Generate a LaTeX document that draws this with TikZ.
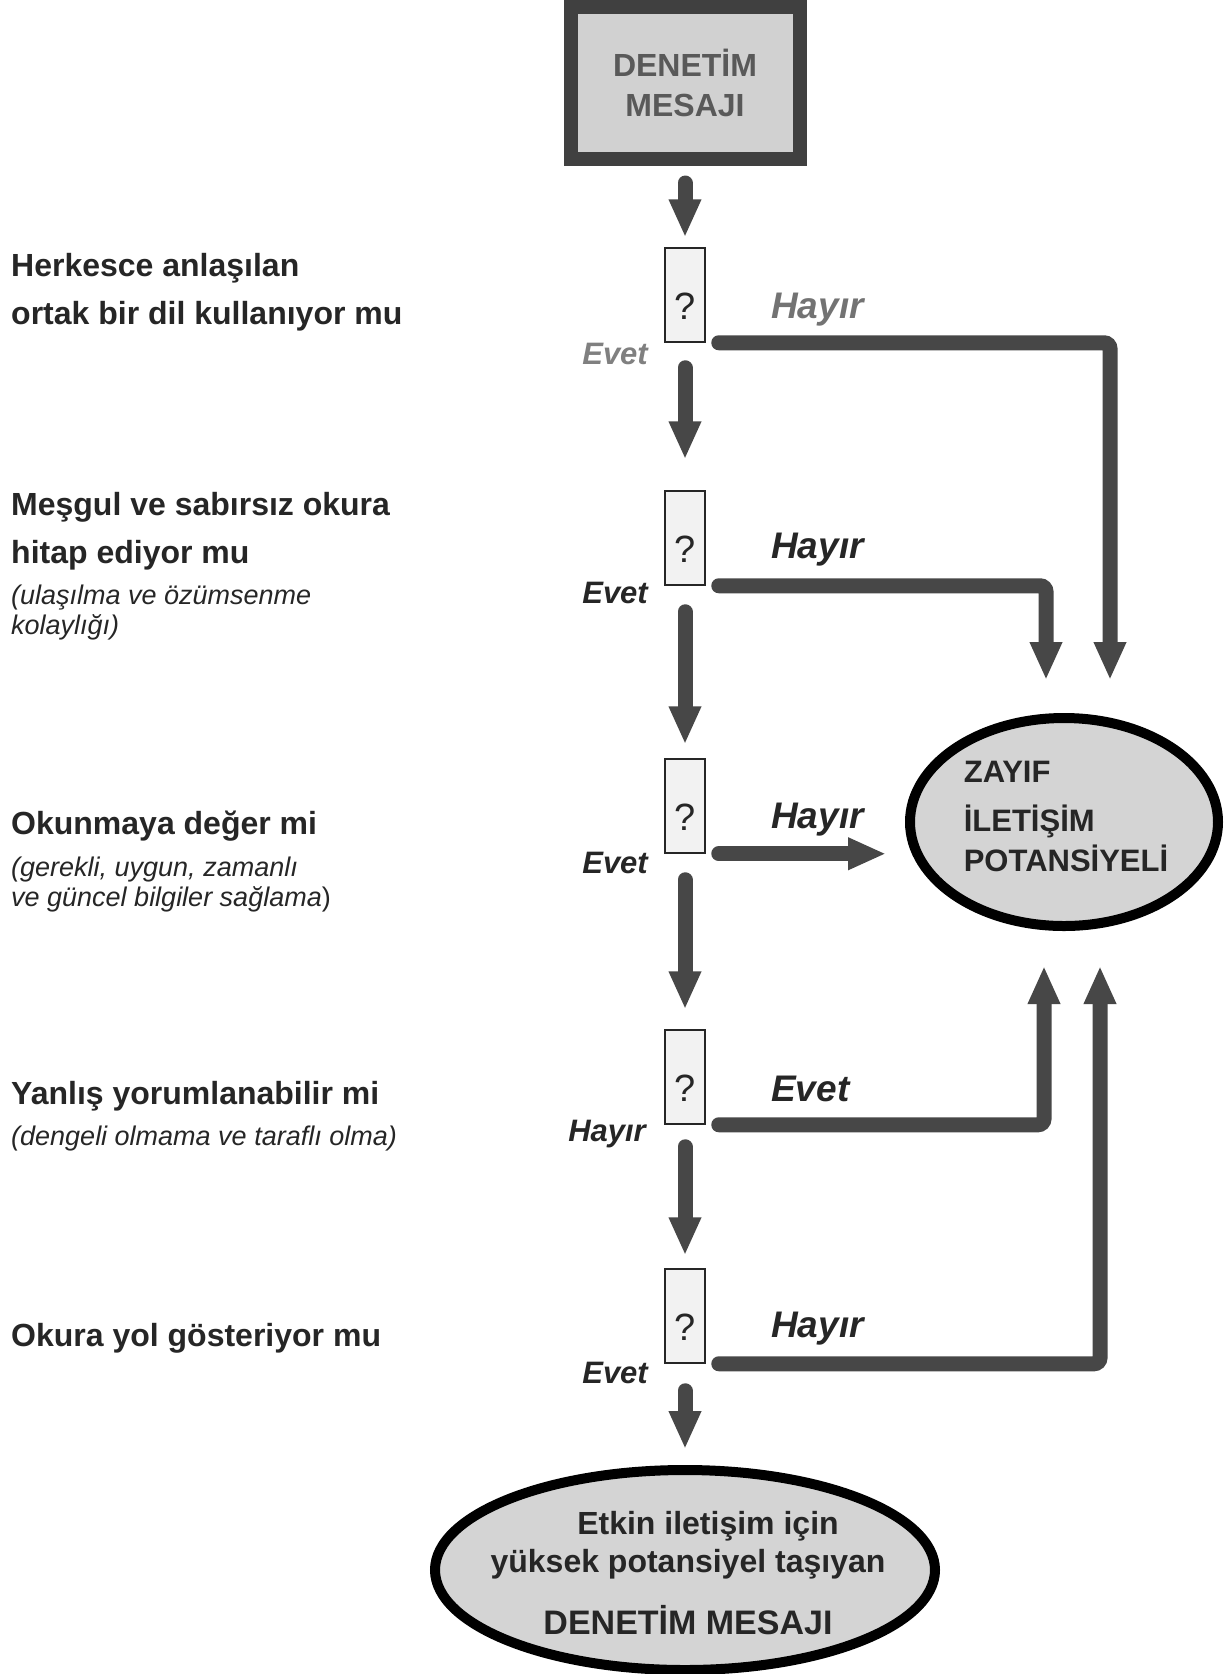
\documentclass[tikz,border=0pt]{standalone}
\usepackage{fontspec}
\setmainfont{Liberation Sans}
\usetikzlibrary{arrows.meta, positioning, shapes.geometric}

\begin{document}
\begin{tikzpicture}[
                x=1pt, y=-1pt,
                every node/.style={inner sep=0pt, text=black!85},
                mesajkutu/.style={draw=black!75, line width=14pt, fill=black!18, minimum width=229pt, minimum height=152pt, align=center, text=black!65, font=\fontsize{32}{40}\selectfont\bfseries},
                soru/.style={draw=black!85, line width=1.5pt, fill=black!5, minimum width=40pt, minimum height=94pt, text height=48pt, text depth=0pt, font=\fontsize{38}{38}\selectfont},
                sonuc/.style={ellipse, draw=black, line width=10pt, fill=black!17},
                soz/.style={align=left, anchor=north west, font=\fontsize{32}{48}\selectfont\bfseries},
                aciklama/.style={align=left, anchor=north west, font=\fontsize{27}{30}\selectfont\itshape},
                cevap/.style={anchor=west, font=\fontsize{37}{37}\selectfont\bfseries\itshape},
                solcevap/.style={anchor=east, font=\fontsize{31}{31}\selectfont\bfseries\itshape},
                ok/.style={draw=black!72, line width=15pt, line cap=round, -{Triangle[width=30pt,length=38pt]}},
                kol/.style={ok, rounded corners=6pt}
            ]
            \useasboundingbox[fill=white] (0,0) rectangle (1230,1674);

            % Başlangıç mesajı
            \node[mesajkutu] (mesaj) at (685,83) {DENETİM\\MESAJI};

            % Soru kutuları
            \node[soru] (soru1) at (685,295) {?};
            \node[soru] (soru2) at (685,538) {?};
            \node[soru] (soru3) at (685,806) {?};
            \node[soru] (soru4) at (685,1077) {?};
            \node[soru] (soru5) at (685,1316) {?};

            % Sonuçlar
            \node[sonuc, minimum width=308pt, minimum height=208pt] (zayif) at (1064,822) {};
            \node[align=left, font=\fontsize{31}{44}\selectfont\bfseries] (zayifyazi) at ([xshift=2pt, yshift=6pt]zayif) {ZAYIF\\[5pt]İLETİŞİM\\[-4pt]POTANSİYELİ};
            \node[sonuc, minimum width=500pt, minimum height=200pt] (etkin) at (685,1570) {};
            \node[align=center, font=\fontsize{32}{38}\selectfont\bfseries] (etkinyazi) at (688,1573) {\hspace*{40pt}Etkin iletişim için\\yüksek potansiyel taşıyan\\[24pt]{\fontsize{34}{34}\selectfont DENETİM MESAJI}};

            % Sorular
            \node[soz] (metin1) at (11,253) {Herkesce anlaşılan\\ortak bir dil kullanıyor mu};
            \node[soz] (metin2) at (11,492) {Meşgul ve sabırsız okura\\hitap ediyor mu};
            \node[aciklama] (aciklama2) at (11,585) {(ulaşılma ve özümsenme\\kolaylığı)};
            \node[soz] (metin3) at (11,811) {Okunmaya değer mi};
            \node[aciklama] (aciklama3) at (11,857) {(gerekli, uygun, zamanlı\\ve güncel bilgiler sağlama\upshape)};
            \node[soz] (metin4) at (11,1081) {Yanlış yorumlanabilir mi};
            \node[aciklama] (aciklama4) at (11,1126) {(dengeli olmama ve taraflı olma)};
            \node[soz] (metin5) at (11,1323) {Okura yol gösteriyor mu};

            % Cevaplar
            \node[solcevap, text=black!50] (evet1) at (648,354) {Evet};
            \node[cevap, text=black!55] (hayir1) at (771,310) {Hayır};
            \node[solcevap] (evet2) at (648,593) {Evet};
            \node[cevap] (hayir2) at (771,550) {Hayır};
            \node[solcevap] (evet3) at (648,863) {Evet};
            \node[cevap] (hayir3) at (771,820) {Hayır};
            \node[solcevap] (hayir4) at (646,1134) {Hayır};
            \node[cevap] (evet4) at (771,1089) {Evet};
            \node[solcevap] (evet5) at (648,1373) {Evet};
            \node[cevap] (hayir5) at (771,1329) {Hayır};

            % Aşağı oklar
            \draw[ok, shorten <=17pt, shorten >=10pt] (mesaj) -- (soru1);
            \draw[ok, shorten <=25pt, shorten >=31pt] (soru1) -- (soru2);
            \draw[ok, shorten <=26pt, shorten >=14pt] (soru2) -- (soru3);
            \draw[ok, shorten <=26pt, shorten >=20pt] (soru3) -- (soru4);
            \draw[ok, shorten <=22pt, shorten >=13pt] (soru4) -- (soru5);
            \draw[ok, shorten <=27pt, shorten >=16pt] (soru5) -- (etkin);

            % Zayıf sonuca giden kollar
            \draw[kol, shorten >=33pt] ([xshift=13pt]soru1.south east) -| ([xshift=46pt]zayif.north);
            \draw[kol, shorten >=33pt] ([xshift=13pt]soru2.south east) -| ([xshift=-18pt]zayif.north);
            \draw[kol, shorten >=19pt] ([xshift=13pt]soru3.south east) -- (zayif.west |- soru3.south east);
            \draw[kol, shorten >=35pt] ([xshift=13pt]soru4.south east) -| ([xshift=-20pt]zayif.south);
            \draw[kol, shorten >=35pt] ([xshift=13pt]soru5.south east) -| ([xshift=36pt]zayif.south);

\end{tikzpicture}
\end{document}
